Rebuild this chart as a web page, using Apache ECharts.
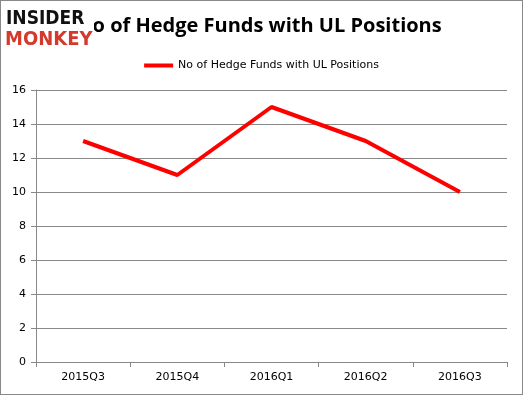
<!DOCTYPE html>
<html><head><meta charset="utf-8">
<script src="https://cdn.jsdelivr.net/npm/echarts@6/dist/echarts.min.js"></script>
<style>html,body{margin:0;padding:0;background:#fff}#c{width:523px;height:395px;box-sizing:border-box;border:1px solid #888}</style>
</head><body><div id="c"></div>
<script>
const categories = ['2015Q3','2015Q4','2016Q1','2016Q2','2016Q3'];
const seriesName = 'No of Hedge Funds with UL Positions';
const values = [13, 11, 15, 13, 10];
const chart = echarts.init(document.getElementById('c'));
chart.setOption({
  animation: false,
  backgroundColor: '#fff',
  title: {
    text: seriesName, left: 253, top: 10, textAlign: 'center',
    textStyle: {fontFamily: 'Open Sans', fontWeight: 'bold', fontSize: 20, color: '#000'}
  },
  legend: {
    data: [seriesName], left: 'center', top: 54,
    icon: 'rect', itemWidth: 29, itemHeight: 4, itemGap: 2,
    textStyle: {fontFamily: 'DejaVu Sans', fontSize: 11, color: '#000'}
  },
  graphic: [
    {type: 'rect', left: 2, top: 6, shape: {width: 91, height: 46}, style: {fill: '#fff'}, z: 100},
    {type: 'text', left: 5, top: 9, z: 101, style: {text: 'INSIDER', font: 'bold 19px "DejaVu Sans Condensed"', fill: '#111'}},
    {type: 'text', left: 4, top: 29, z: 101, style: {text: 'MONKEY', font: 'bold 20px "DejaVu Sans Condensed"', fill: '#d33a2c'}}
  ],
  grid: {left: 35, right: 15, top: 89, bottom: 32, containLabel: false},
  xAxis: {
    type: 'category', data: categories, boundaryGap: true,
    axisLine: {lineStyle: {color: '#888'}},
    axisTick: {show: true, length: 5, lineStyle: {color: '#888'}},
    axisLabel: {color: '#000', fontFamily: 'DejaVu Sans', fontSize: 11, margin: 10}
  },
  yAxis: {
    type: 'value', min: 0, max: 16, interval: 2,
    axisLine: {show: true, lineStyle: {color: '#888'}},
    axisTick: {show: true, length: 5, lineStyle: {color: '#888'}},
    splitLine: {lineStyle: {color: '#888'}},
    axisLabel: {color: '#000', fontFamily: 'DejaVu Sans', fontSize: 11, margin: 10}
  },
  series: [{
    name: seriesName, type: 'line', data: values,
    symbol: 'none', lineStyle: {color: '#ff0000', width: 4}, itemStyle: {color: '#ff0000'}
  }]
});
</script></body></html>
